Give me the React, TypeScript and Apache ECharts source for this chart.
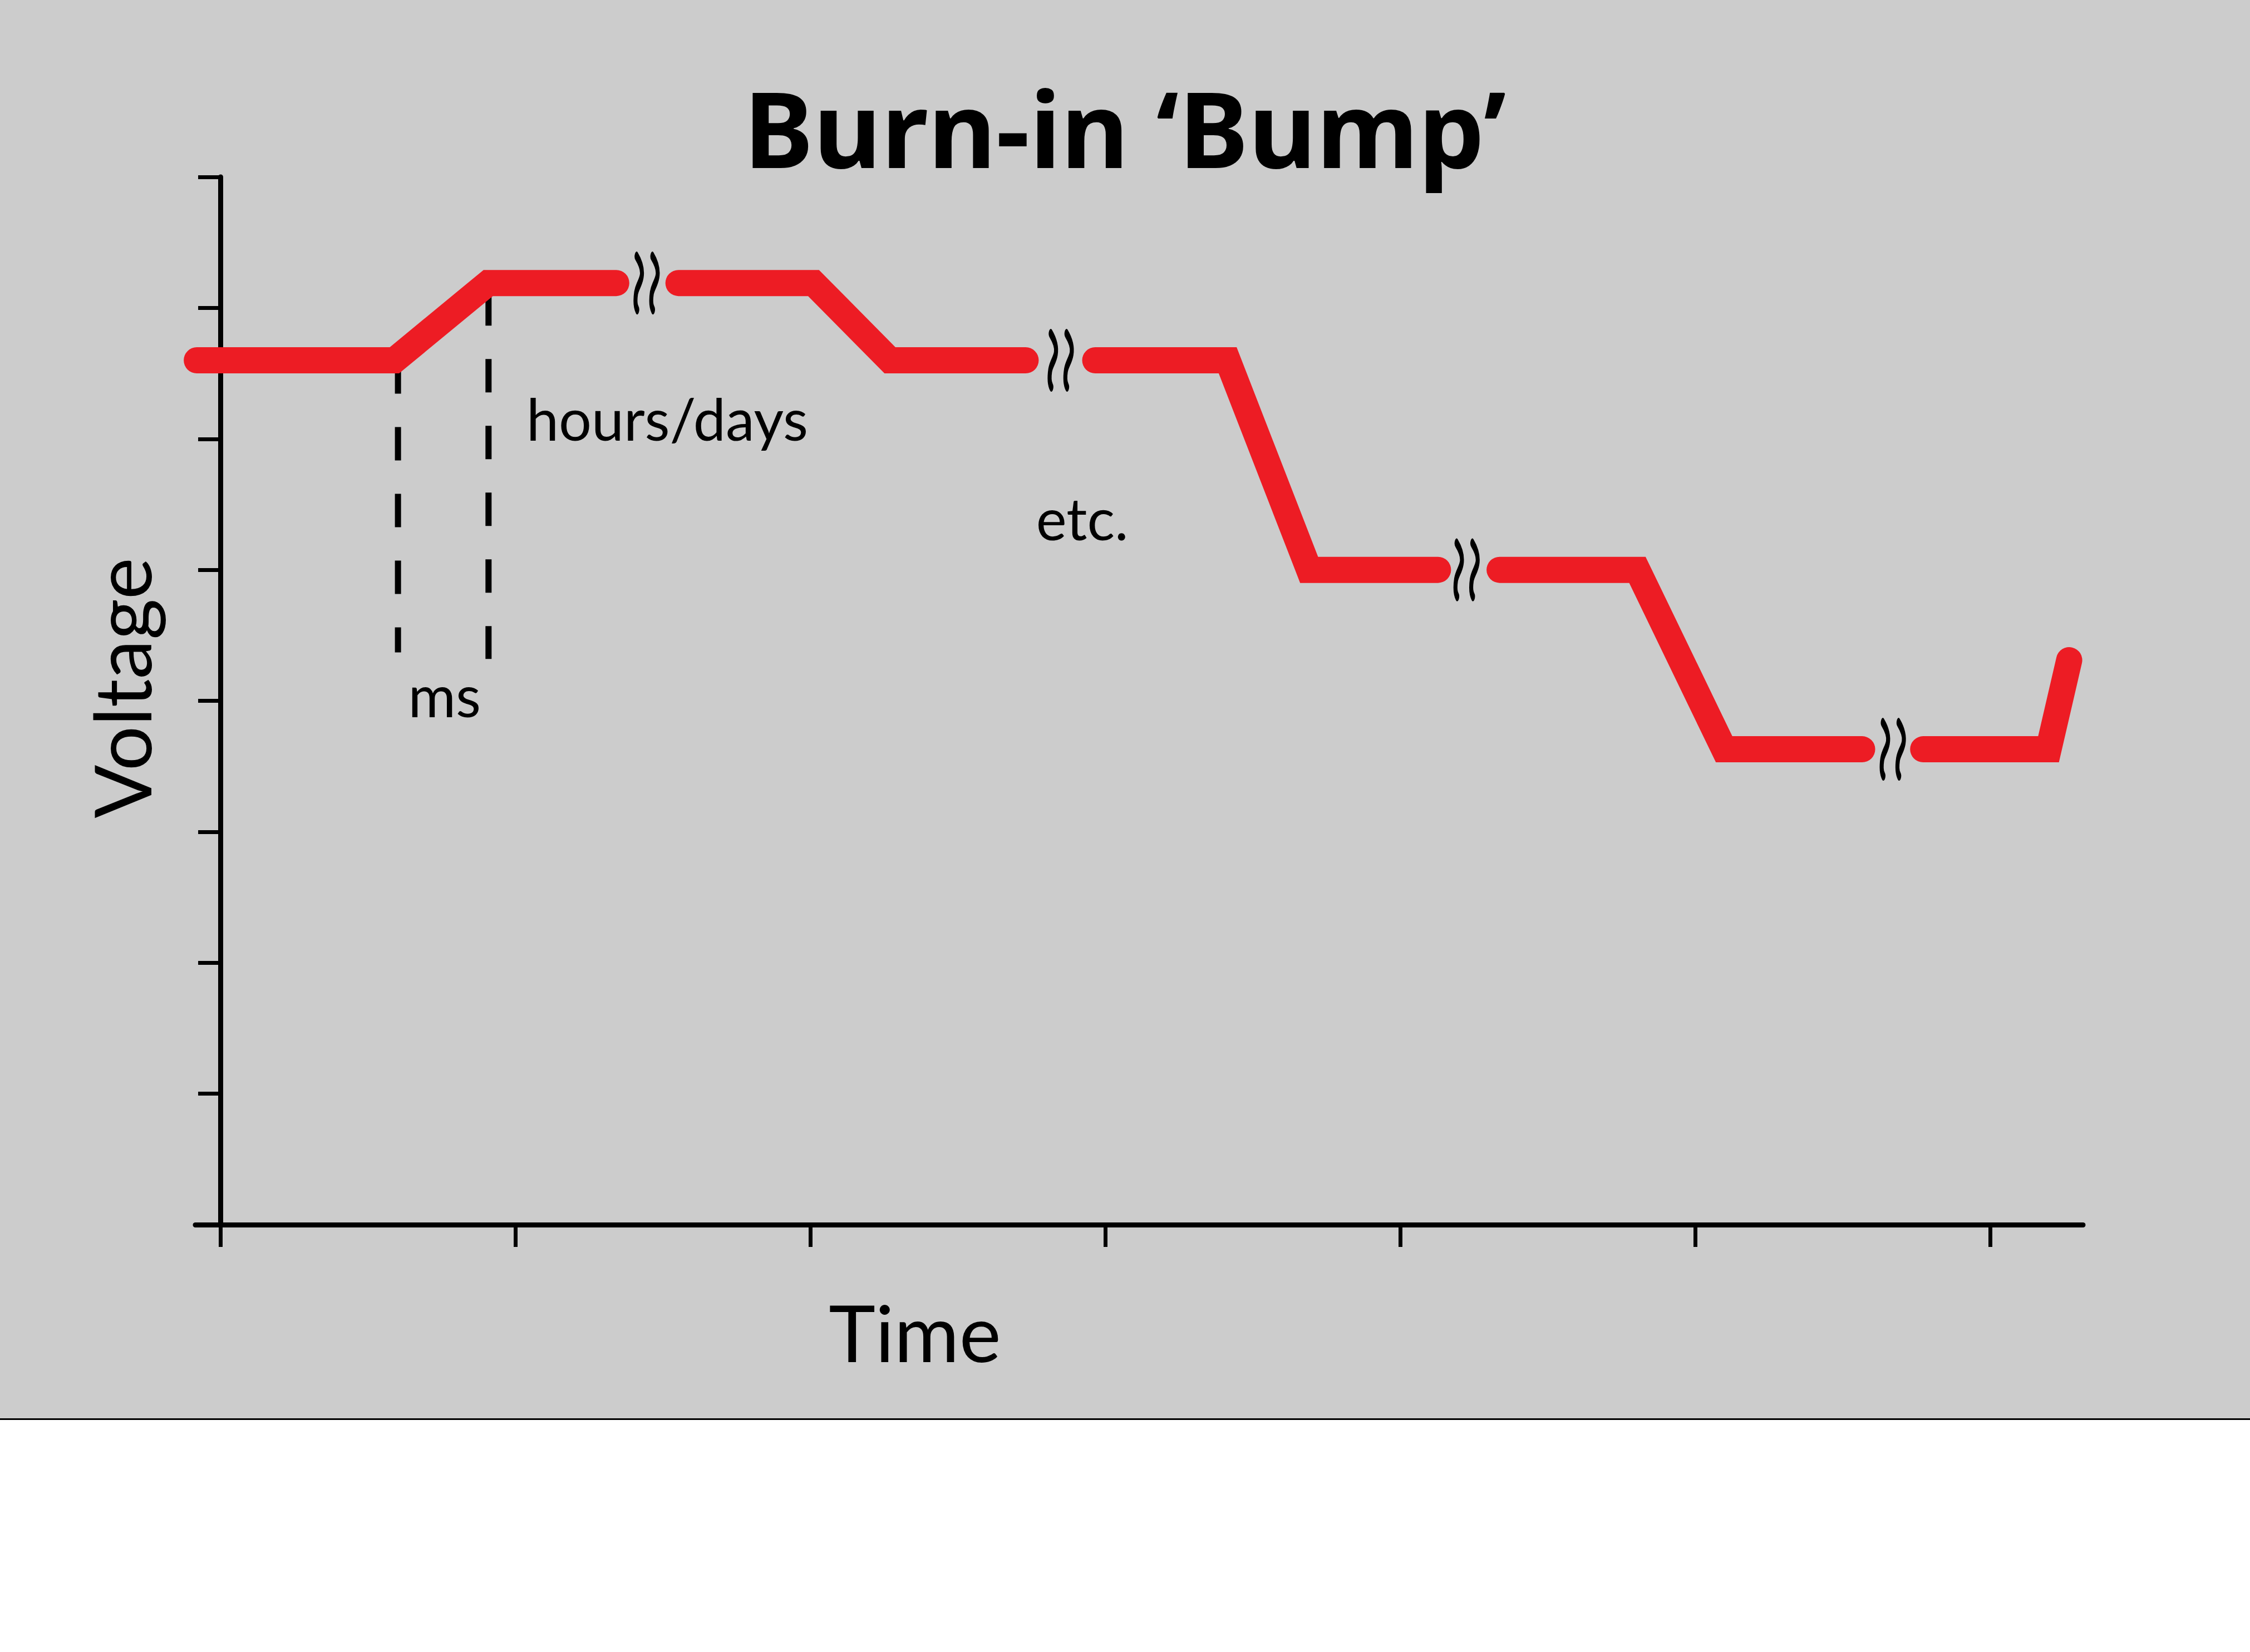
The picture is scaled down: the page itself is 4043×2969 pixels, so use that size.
import React, { useEffect, useRef } from 'react';
import * as echarts from 'echarts';

// red voltage trace; '-' is a break in time (marked with a squiggle)
const traceX = [-0.08, 0.59, 0.908, 1.342, 1.445, 1.553, 2.011, 2.27, 2.73, 2.849, 2.966, 3.415, 3.691, 4.128, 4.225, 4.337, 4.804, 5.098, 5.566, 5.67, 5.773, 6.198, 6.268];
const traceY: (number | string)[] = [6.6, 6.6, 7.19, 7.19, '-', 7.19, 7.19, 6.6, 6.6, '-', 6.6, 6.6, 5.0, 5.0, '-', 5.0, 5.0, 3.63, 3.63, '-', 3.63, 3.63, 4.31];

// break markers
const breakX = [1.445, 2.849, 4.225, 5.67];
const breakY = [7.19, 6.6, 5.0, 3.63];

// dashed guides around the ms ramp
const guideX = [0.602, 0.909];
const guideTop = [6.6, 7.12];
const guideBottom = [4.37, 4.32];

// text notes
const noteText = ['hours/days', 'etc.', 'ms'];
const noteX = [1.515, 2.922, 0.76];
const noteY = [6.157, 5.398, 4.046];

// axes
const timeTicks = [0, 1, 2, 3, 4, 5, 6];
const timeMin = -0.085;
const timeMax = 6.315;
const voltMax = 8;

const SQUIGGLE =
  'path://M7 0C14 12 18 24 16 36C14 48 8 54 6 66C4 80 5 90 8 96M35 0C42 12 46 24 44 36C42 48 36 54 34 66C32 80 33 90 36 96';

const FONT = 'Lato, "Noto Sans", sans-serif';
const TITLE_FONT = '"Noto Sans", Lato, sans-serif';

export default function App() {
  const chartRef = useRef<HTMLDivElement>(null);

  useEffect(() => {
    if (!chartRef.current) return;
    const chart = echarts.init(chartRef.current, null, { renderer: 'svg' });

    const guideSeries = guideX.map((x, i) => ({
      type: 'line',
      silent: true,
      symbol: 'none',
      data: [
        [x, guideTop[i]],
        [x, guideBottom[i]],
      ],
      lineStyle: { color: '#000', width: 11, type: [60, 60], cap: 'butt' },
    }));

    const option = {
      animation: false,
      backgroundColor: '#ffffff',
      graphic: [
        {
          type: 'rect',
          z: -10,
          silent: true,
          shape: { x: 0, y: 0, width: 4043, height: 2550 },
          style: { fill: '#cccccc' },
        },
        {
          type: 'line',
          z: -9,
          silent: true,
          shape: { x1: 0, y1: 2550.5, x2: 4043, y2: 2550.5 },
          style: { stroke: '#000', lineWidth: 3 },
        },
      ],
      title: {
        text: 'Burn-in ‘Bump’',
        left: 'center',
        top: 135,
        padding: 0,
        textStyle: { fontFamily: TITLE_FONT, fontWeight: 'bold', fontSize: 188, color: '#000' },
      },
      // y axis sits on x = 0 (onZero); the trace starts a little left of it
      grid: { left: 351, right: 300, top: 318, bottom: 768 },
      xAxis: {
        type: 'value',
        min: timeMin,
        max: timeMax,
        name: 'Time',
        nameLocation: 'middle',
        nameGap: 121,
        nameTextStyle: { fontFamily: FONT, fontSize: 142, color: '#000', padding: [0, 806, 0, 0] },
        axisLine: { onZero: true, lineStyle: { color: '#000', width: 9 } },
        axisTick: { show: true, customValues: timeTicks, length: 40, lineStyle: { color: '#000', width: 7 } },
        axisLabel: { show: false },
        splitLine: { show: false },
      },
      yAxis: {
        type: 'value',
        min: 0,
        max: voltMax,
        interval: 1,
        name: 'Voltage',
        nameLocation: 'middle',
        nameRotate: 90,
        nameGap: 63,
        nameTextStyle: { fontFamily: FONT, fontSize: 142, color: '#000', padding: [0, 0, 0, 46] },
        axisLine: { onZero: true, lineStyle: { color: '#000', width: 9 } },
        axisTick: { show: true, length: 40, lineStyle: { color: '#000', width: 7 } },
        axisLabel: { show: false },
        splitLine: { show: false },
      },
      series: [
        ...guideSeries,
        {
          name: 'Voltage',
          type: 'line',
          silent: true,
          clip: false,
          symbol: 'none',
          connectNulls: false,
          data: traceX.map((x, i) => [x, traceY[i]]),
          lineStyle: { color: '#ed1c24', width: 47, cap: 'round', join: 'miter' },
        },
        {
          type: 'scatter',
          silent: true,
          symbol: SQUIGGLE,
          symbolSize: [40, 96],
          data: breakX.map((x, i) => [x, breakY[i]]),
          itemStyle: { color: 'transparent', borderColor: '#000', borderWidth: 11, borderCap: 'round', opacity: 1 },
        },
        {
          type: 'scatter',
          silent: true,
          symbolSize: 1,
          data: noteText.map((t, i) => ({ name: t, value: [noteX[i], noteY[i]] })),
          itemStyle: { color: 'transparent', opacity: 1 },
          label: {
            show: true,
            position: 'inside',
            formatter: '{b}',
            fontFamily: FONT,
            fontSize: 104,
            color: '#000',
          },
        },
      ],
    };

    chart.setOption(option);
    return () => chart.dispose();
  }, []);

  return (
    <div
      ref={chartRef}
      style={{ position: 'absolute', left: 0, top: 0, width: 4043, height: 2969 }}
    />
  );
}
